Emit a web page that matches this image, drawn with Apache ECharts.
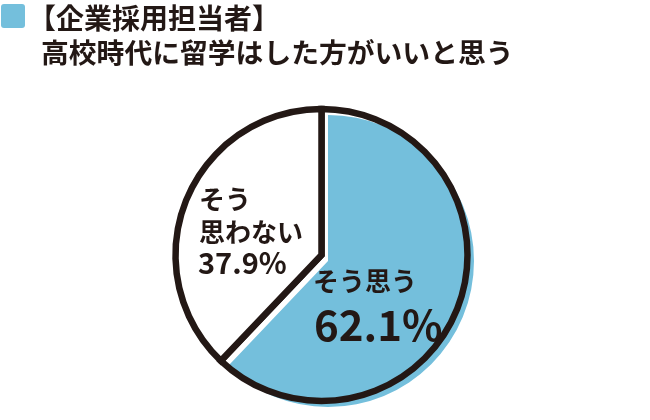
<!DOCTYPE html>
<html>
<head>
<meta charset="utf-8">
<script src="https://cdn.jsdelivr.net/npm/echarts@6/dist/echarts.min.js"></script>
<style>
  html, body { margin: 0; padding: 0; background: #fff; }
  #pie { width: 650px; height: 420px; }
</style>
</head>
<body>
<div id="pie"></div>
<script>
// data
var titleLines = ['【企業採用担当者】', '高校時代に留学はした方がいいと思う'];
var categories = ['そう思う', 'そう思わない'];
var labelLines = [['そう思う'], ['そう', '思わない']];
var values = [62.1, 37.9];

var BLUE = '#74bfdc';
var INK = '#231815';
var FONT = '"Noto Sans CJK JP", "Noto Sans", sans-serif';

var chart = echarts.init(document.getElementById('pie'));

var pieData = categories.map(function (c, i) {
  return { name: c, value: values[i] };
});

chart.setOption({
  animation: false,
  graphic: [
    {
      type: 'rect',
      shape: { x: 1, y: 4, width: 24, height: 24, r: 3 },
      style: { fill: BLUE }
    },
    {
      type: 'text',
      x: 28, y: 18,
      style: {
        text: titleLines[0], fill: INK, font: 'bold 28px ' + FONT,
        verticalAlign: 'middle'
      }
    },
    {
      type: 'text',
      x: 41, y: 52,
      style: {
        text: titleLines[1], fill: INK, font: 'bold 27.8px ' + FONT,
        verticalAlign: 'middle'
      }
    },
    // そう思う 62.1%
    {
      type: 'text',
      x: 313, y: 281, z: 10,
      style: {
        text: labelLines[0].join(''), fill: INK, font: 'bold 26px ' + FONT,
        verticalAlign: 'middle'
      }
    },
    {
      type: 'text',
      x: 314, y: 325, z: 10,
      style: {
        text: values[0].toFixed(1) + '%', fill: INK, font: 'bold 42px ' + FONT,
        verticalAlign: 'middle'
      }
    },
    // そう思わない 37.9%
    {
      type: 'text',
      x: 199, y: 199, z: 10,
      style: {
        text: labelLines[1][0], fill: INK, font: 'bold 26px ' + FONT,
        verticalAlign: 'middle'
      }
    },
    {
      type: 'text',
      x: 199, y: 232, z: 10,
      style: {
        text: labelLines[1][1], fill: INK, font: 'bold 26px ' + FONT,
        verticalAlign: 'middle'
      }
    },
    {
      type: 'text',
      x: 198, y: 263, z: 10,
      style: {
        text: values[1].toFixed(1) + '%', fill: INK, font: 'bold 29px ' + FONT,
        verticalAlign: 'middle'
      }
    }
  ],
  series: [
    {
      // blue fill, slightly offset
      type: 'pie',
      silent: true,
      center: [328, 261],
      radius: [0, 146],
      startAngle: 90,
      clockwise: true,
      label: { show: false },
      labelLine: { show: false },
      data: pieData.map(function (d, i) {
        return {
          name: d.name, value: d.value,
          itemStyle: { color: i === 0 ? BLUE : 'rgba(0,0,0,0)' }
        };
      })
    },
    {
      // black outline
      type: 'pie',
      silent: true,
      z: 3,
      center: [321.5, 255],
      radius: [0, 146],
      startAngle: 90,
      clockwise: true,
      label: { show: false },
      labelLine: { show: false },
      itemStyle: { borderColor: INK, borderWidth: 6.5, borderJoin: 'miter' },
      data: pieData.map(function (d, i) {
        return {
          name: d.name, value: d.value,
          itemStyle: { color: i === 0 ? 'rgba(0,0,0,0)' : '#fff' }
        };
      })
    }
  ]
});
</script>
</body>
</html>
